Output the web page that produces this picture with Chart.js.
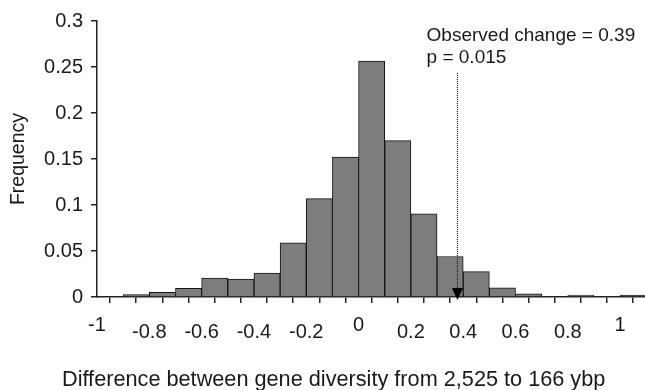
<!DOCTYPE html>
<html>
<head>
<meta charset="utf-8">
<script src="https://cdn.jsdelivr.net/npm/chart.js@4"></script>
<style>
  html, body { margin: 0; padding: 0; background: #fff; }
  #wrap { width: 645px; height: 390px; }
</style>
</head>
<body>
<div id="wrap"><canvas id="chart"></canvas></div>
<script>
// histogram bins (width 0.1), last one is cut off by the picture edge
const binCenters = [-0.95, -0.85, -0.75, -0.65, -0.55, -0.45, -0.35, -0.25, -0.15, -0.05,
                    0.05, 0.15, 0.25, 0.35, 0.45, 0.55, 0.65, 0.75, 0.85, 0.95, 1.05];
const frequency = [0, 0.0025, 0.005, 0.0095, 0.0205, 0.0195, 0.026, 0.059, 0.107, 0.152,
                   0.2565, 0.17, 0.0905, 0.044, 0.0275, 0.01, 0.0035, 0, 0.0022, 0, 0.002];

const binEdges = [-1, -0.9, -0.8, -0.7, -0.6, -0.5, -0.4, -0.3, -0.2, -0.1, 0,
                  0.1, 0.2, 0.3, 0.4, 0.5, 0.6, 0.7, 0.8, 0.9, 1];
const xTickLabels = ['-1', '', '-0.8', '', '-0.6', '', '-0.4', '', '-0.2', '', '0',
                     '', '0.2', '', '0.4', '', '0.6', '', '0.8', '', '1'];
const raisedLabels = ['-1', '0', '1'];

const yTickValues = [0, 0.05, 0.1, 0.15, 0.2, 0.25, 0.3];
const yTickLabels = ['0', '0.05', '0.1', '0.15', '0.2', '0.25', '0.3'];

const observedChange = 0.378;   // where the arrow sits on the axis
const arrowLineTop = 0.2435;
const noteLines = ['Observed change = 0.39', 'p = 0.015'];
const xTitle = 'Difference between gene diversity from 2,525 to 166 ybp';

const FONT = '"Liberation Sans", Arial, sans-serif';
const INK = '#1a1a1a';

const notePlugin = {
    id: 'notes',
    afterDatasetsDraw(chart) {
        const { ctx, scales: { x, y }, chartArea } = chart;
        const px = x.getPixelForValue(observedChange);
        const y0 = y.getPixelForValue(0);
        ctx.save();
        // dotted line down to the axis
        ctx.strokeStyle = '#222';
        ctx.lineWidth = 1.2;
        ctx.setLineDash([1, 1]);
        ctx.beginPath();
        ctx.moveTo(px, y.getPixelForValue(arrowLineTop));
        ctx.lineTo(px, y0 - 8);
        ctx.stroke();
        ctx.setLineDash([]);
        // arrow head
        ctx.fillStyle = '#000';
        ctx.beginPath();
        ctx.moveTo(px - 5.5, y0 - 9);
        ctx.lineTo(px + 5.5, y0 - 9);
        ctx.lineTo(px, y0 + 3);
        ctx.closePath();
        ctx.fill();
        // annotation text
        ctx.fillStyle = INK;
        ctx.font = '19px ' + FONT;
        ctx.textAlign = 'left';
        ctx.textBaseline = 'alphabetic';
        const tx = x.getPixelForValue(0.26);
        ctx.fillText(noteLines[0], tx, chartArea.top + 20);
        ctx.fillText(noteLines[1], tx, chartArea.top + 42);
        // x axis title
        ctx.font = '21.7px ' + FONT;
        ctx.fillText(xTitle, chartArea.left - 35, chart.height - 4);
        ctx.restore();
    }
};

new Chart(document.getElementById('chart'), {
    type: 'bar',
    data: {
        datasets: [{
            data: binCenters.map((c, i) => ({ x: c, y: frequency[i] })),
            backgroundColor: '#7d7d7d',
            borderColor: '#141414',
            borderWidth: 1,
            barPercentage: 1,
            categoryPercentage: 1
        }]
    },
    options: {
        responsive: true,
        maintainAspectRatio: false,
        animation: false,
        layout: { padding: { top: 21, left: 0, right: 0, bottom: 0 } },
        plugins: { legend: { display: false }, tooltip: { enabled: false } },
        scales: {
            x: {
                type: 'linear',
                min: -1,
                max: 1.095,
                offset: false,
                afterBuildTicks: s => { s.ticks = binEdges.map(v => ({ value: v })); },
                afterFit: s => { s.height = 93; },
                ticks: {
                    autoSkip: false,
                    maxRotation: 0,
                    padding: 17,
                    color: INK,
                    callback: (v, i) => xTickLabels[i],
                    font: ctx => ({
                        family: FONT,
                        size: 20,
                        lineHeight: raisedLabels.includes(xTickLabels[ctx.index]) ? 0.5 : 1.2
                    })
                },
                grid: { drawOnChartArea: false, tickLength: 6, color: '#222', lineWidth: 1.5 },
                border: { color: '#222', width: 1.5 }
            },
            y: {
                min: 0,
                max: 0.3,
                afterBuildTicks: s => { s.ticks = yTickValues.map(v => ({ value: v })); },
                afterFit: s => { s.width = 97; },
                ticks: {
                    padding: 8,
                    color: INK,
                    font: { family: FONT, size: 20 },
                    callback: (v, i) => yTickLabels[i]
                },
                grid: { drawOnChartArea: false, tickLength: 6, color: '#222', lineWidth: 1.5 },
                border: { color: '#222', width: 1.5 },
                title: {
                    display: true,
                    text: 'Frequency',
                    color: INK,
                    font: { family: FONT, size: 19.5 },
                    padding: { top: 7, bottom: 0 }
                }
            }
        }
    },
    plugins: [notePlugin]
});
</script>
</body>
</html>
